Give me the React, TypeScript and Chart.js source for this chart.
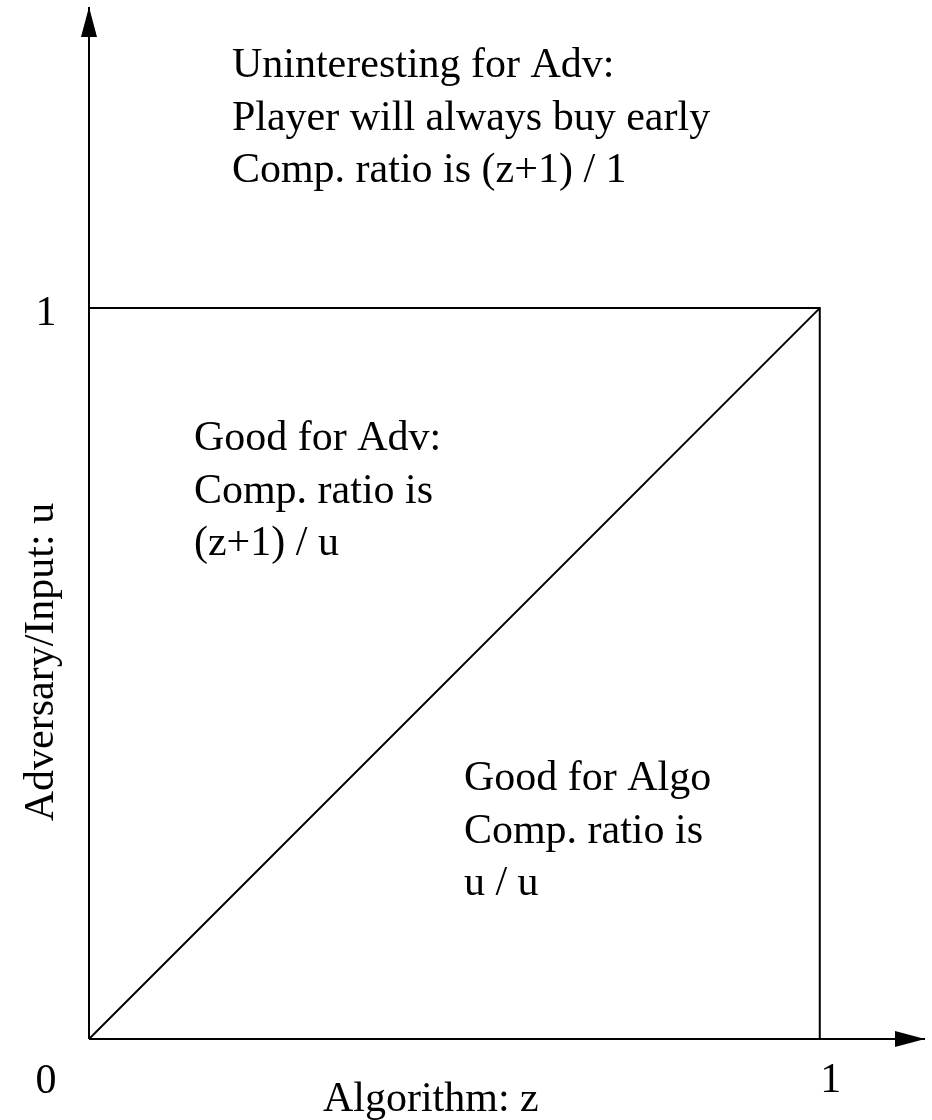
import React, { useEffect, useRef } from "react";
import { Chart, registerables } from "chart.js";

Chart.register(...registerables);

// Axis ranges (data units)
const X_MAX = 1.144;
const Y_MAX = 1.412;

// Lines of the diagram (data units)
const squareX = [0, 1, 1];
const squareY = [1, 1, 0];
const diagonalX = [0, 1];
const diagonalY = [0, 1];
const xAxisX = [0, X_MAX];
const xAxisY = [0, 0];
const yAxisX = [0, 0];
const yAxisY = [0, Y_MAX];

// Texts
const xTitle = "Algorithm: z";
const yTitle = "Adversary/Input: u";
const originLabel = "0";
const xTickLabel = "1";
const yTickLabel = "1";

const topLines = ["Uninteresting for Adv:", "Player will always buy early", "Comp. ratio is (z+1) / 1"];
const advLines = ["Good for Adv:", "Comp. ratio is", "(z+1) / u"];
const algoLines = ["Good for Algo", "Comp. ratio is", "u / u"];

// Anchors for region texts (data units: left x, first baseline y)
const topAnchor = { x: 0.1956, y: 1.316 };
const advAnchor = { x: 0.1436, y: 0.8057 };
const algoAnchor = { x: 0.513, y: 0.3406 };

const FONT = '42px "Liberation Serif", "Times New Roman", serif';
const LINE_H = 52.5;

function pts(xs: number[], ys: number[]) {
  return xs.map((x, i) => ({ x, y: ys[i] }));
}

const diagramPlugin = {
  id: "diagramText",
  afterDraw(chart: any) {
    const ctx = chart.ctx as CanvasRenderingContext2D;
    const xs = chart.scales.x;
    const ys = chart.scales.y;
    const px = (v: number) => xs.getPixelForValue(v);
    const py = (v: number) => ys.getPixelForValue(v);
    ctx.save();
    ctx.fillStyle = "#000";

    // Arrowheads
    const ox = px(0);
    const oy = py(0);
    const topY = py(Y_MAX);
    ctx.beginPath();
    ctx.moveTo(ox, topY);
    ctx.lineTo(ox - 8, topY + 30);
    ctx.lineTo(ox + 8, topY + 30);
    ctx.closePath();
    ctx.fill();
    const rightX = px(X_MAX);
    ctx.beginPath();
    ctx.moveTo(rightX, oy);
    ctx.lineTo(rightX - 30, oy - 8);
    ctx.lineTo(rightX - 30, oy + 8);
    ctx.closePath();
    ctx.fill();

    ctx.font = FONT;
    ctx.textBaseline = "alphabetic";

    // Region texts
    ctx.textAlign = "left";
    const block = (lines: string[], a: { x: number; y: number }) => {
      lines.forEach((t, i) => ctx.fillText(t, px(a.x), py(a.y) + i * LINE_H));
    };
    block(topLines, topAnchor);
    block(advLines, advAnchor);
    block(algoLines, algoAnchor);

    // Tick labels
    ctx.textAlign = "center";
    ctx.fillText(originLabel, ox - 43, oy + 54);
    ctx.fillText(xTickLabel, px(1) + 11, oy + 53);
    ctx.fillText(yTickLabel, ox - 43, py(1) + 17);

    // Axis titles
    ctx.fillText(xTitle, px(0.4678), oy + 72);
    ctx.save();
    ctx.translate(ox - 36, py(0.5157));
    ctx.rotate(-Math.PI / 2);
    ctx.fillText(yTitle, 0, 0);
    ctx.restore();

    ctx.restore();
  },
};

export default function App() {
  const ref = useRef<HTMLCanvasElement | null>(null);
  useEffect(() => {
    document.body.style.margin = "0";
    const lineDs = (data: any[]) => ({
      data,
      showLine: true,
      borderColor: "#000",
      borderWidth: 2,
      pointRadius: 0,
      fill: false,
      clip: false as any,
      tension: 0,
    });
    const chart = new Chart(ref.current as HTMLCanvasElement, {
      type: "scatter",
      data: {
        datasets: [
          lineDs(pts(xAxisX, xAxisY)),
          lineDs(pts(yAxisX, yAxisY)),
          lineDs(pts(squareX, squareY)),
          lineDs(pts(diagonalX, diagonalY)),
        ],
      },
      options: {
        responsive: false,
        animation: false,
        layout: { padding: { left: 89, right: 7, top: 7, bottom: 81 } },
        scales: {
          x: { type: "linear", min: 0, max: X_MAX, display: false },
          y: { type: "linear", min: 0, max: Y_MAX, display: false },
        },
        plugins: { legend: { display: false }, tooltip: { enabled: false } },
      },
      plugins: [diagramPlugin],
    });
    return () => chart.destroy();
  }, []);
  return (
    <div style={{ position: "absolute", left: 0, top: 0, width: 932, height: 1120, background: "#fff" }}>
      <canvas ref={ref} width={932} height={1120} style={{ width: 932, height: 1120 }} />
    </div>
  );
}
